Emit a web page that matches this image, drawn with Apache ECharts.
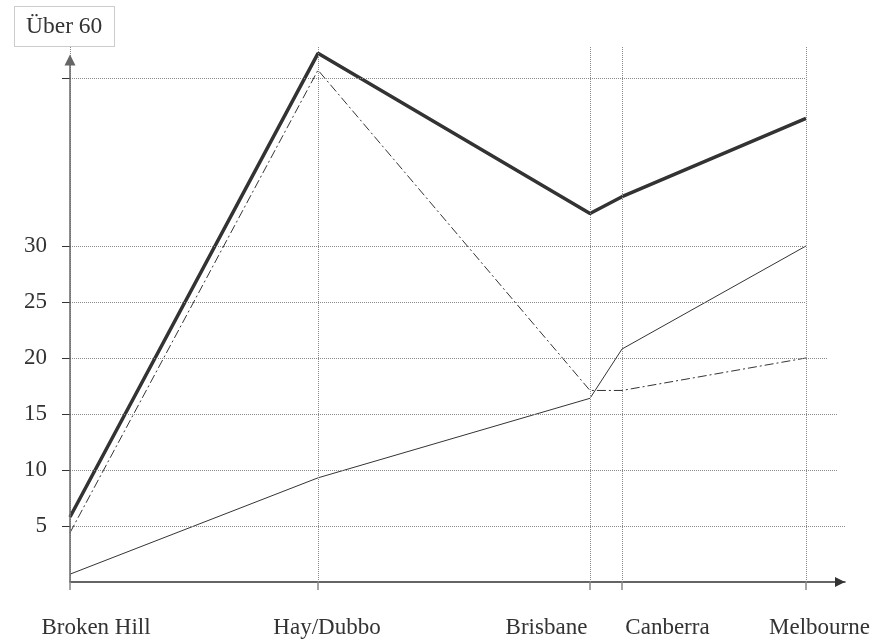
<!DOCTYPE html>
<html><head><meta charset="utf-8">
<script src="https://cdn.jsdelivr.net/npm/echarts@6/dist/echarts.min.js"></script>
<style>html,body{margin:0;padding:0;background:#fff}#c{width:877px;height:639px}</style>
</head><body><div id="c"></div>
<script>
const categories = ['Broken Hill', 'Hay/Dubbo', 'Brisbane', 'Canberra', 'Melbourne'];
const categoryX = [0, 248, 520, 552, 736];
const labelX = [26, 257, 476.5, 597.5, 749.5];
const seriesThick = [5.8, 47.2, 32.9, 34.4, 41.4];
const seriesDashDot = [4.4, 45.7, 17.1, 17.1, 20.0];
const seriesThin = [0.7, 9.3, 16.4, 20.8, 30.0];
const yTickLabels = [5, 10, 15, 20, 25, 30];
const yTicks = [5, 10, 15, 20, 25, 30, 45];
const titleText = 'Über 60';

const FONT = 'Liberation Serif';
const DARK = '#333';
const GRID = '#8a8a8a';
const X_MAX = 775;
const gridEnds = { 5: 775, 10: 767, 15: 767, 20: 758, 25: 736, 30: 736, 45: 736 };

const pts = arr => categoryX.map((x, i) => [x, arr[i]]);

const hLines = yTicks.map(v => [{ coord: [0, v] }, { coord: [gridEnds[v], v] }]);
const vLines = categoryX.map(x => [{ coord: [x, 0] }, { coord: [x, 47.8] }]);

const chart = echarts.init(document.getElementById('c'));
chart.setOption({
  animation: false,
  title: {
    text: titleText, left: 14, top: 6,
    padding: [9, 12, 8, 12],
    borderColor: '#999', borderWidth: 1, borderType: 'dotted',
    textStyle: { fontFamily: FONT, fontSize: 23.5, fontWeight: 'normal', color: DARK }
  },
  grid: { left: 70, right: 32, bottom: 57, top: 46.6 },
  xAxis: {
    type: 'value', min: 0, max: X_MAX,
    axisLine: { lineStyle: { color: DARK, width: 1.5 }, symbol: ['none', 'triangle'], symbolSize: [10, 10], symbolOffset: [0, -5] },
    axisTick: { customValues: categoryX, length: 8, lineStyle: { color: '#888', width: 1.5 } },
    axisLabel: {
      customValues: labelX, margin: 34, fontFamily: FONT, fontSize: 23, color: DARK,
      formatter: v => categories[labelX.indexOf(v)] || ''
    },
    splitLine: { show: false }
  },
  yAxis: {
    type: 'value', min: 0, max: 47.8,
    axisLine: { show: false },
    axisTick: { show: true, customValues: yTicks, length: 8, lineStyle: { color: DARK, width: 1 } },
    axisLabel: { customValues: yTickLabels, margin: 23, fontFamily: FONT, fontSize: 23, color: DARK },
    splitLine: { show: false }
  },
  series: [
    {
      type: 'line', data: pts(seriesThin), symbol: 'none', z: 3,
      lineStyle: { color: DARK, width: 1 },
      markLine: {
        silent: true, symbol: ['none', 'none'], label: { show: false },
        lineStyle: { color: GRID, type: [1, 1], width: 1 },
        data: hLines.concat(vLines)
      }
    },
    {
      type: 'line', data: pts(seriesDashDot), symbol: 'none', z: 3,
      lineStyle: { color: DARK, width: 1, type: [9, 3, 2, 3] }
    },
    {
      type: 'line', data: pts(seriesThick), symbol: 'none', z: 4,
      lineStyle: { color: DARK, width: 3.5 },
      markLine: {
        silent: true, symbol: ['none', 'triangle'], symbolSize: [11, 11], label: { show: false },
        lineStyle: { color: '#666', type: 'solid', width: 1.5 },
        data: [[{ coord: [0, 0] }, { coord: [0, 46.6] }]]
      }
    }
  ]
});
</script></body></html>
